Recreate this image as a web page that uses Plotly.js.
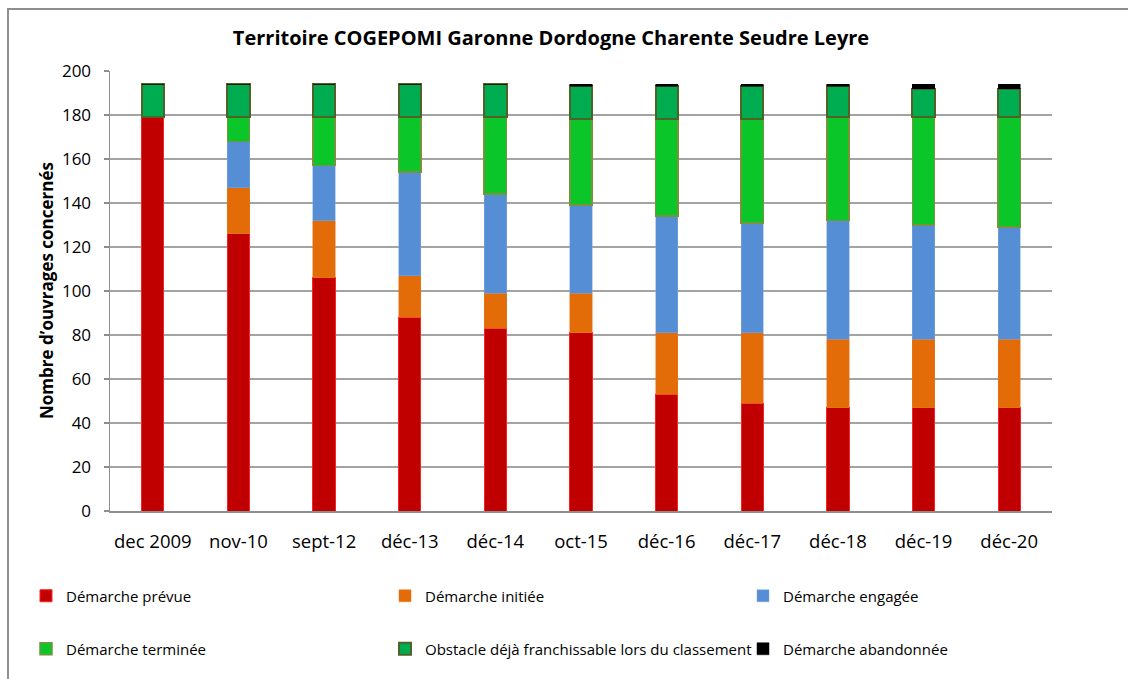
<!DOCTYPE html>
<html>
<head>
<meta charset="utf-8">
<script src="https://cdn.plot.ly/plotly-3.0.1.min.js"></script>
<style>
  html, body { margin: 0; padding: 0; background: #ffffff; }
  #wrap { position: relative; width: 1128px; height: 679px; overflow: hidden; }
  #chart { position: absolute; left: 0; top: 0; width: 1128px; height: 679px; }
  #frame { position: absolute; left: 7px; top: 8px; width: 1140px; height: 700px;
           border-left: 2px solid #8e8e8e; border-top: 2px solid #8e8e8e; pointer-events: none; }
</style>
</head>
<body>
<div id="wrap">
  <div id="chart"></div>
  <div id="frame"></div>
</div>
<script>
// ---- Data ----
const categories = ["dec 2009", "nov-10", "sept-12", "déc-13", "déc-14", "oct-15", "déc-16", "déc-17", "déc-18", "déc-19", "déc-20"];
const seriesNames = ["Démarche prévue", "Démarche initiée", "Démarche engagée", "Démarche terminée", "Obstacle déjà franchissable lors du classement", "Démarche abandonnée"];
const demarchePrevue     = [179, 126, 106, 88, 83, 81, 53, 49, 47, 47, 47];
const demarcheInitiee    = [0, 21, 26, 19, 16, 18, 28, 32, 31, 31, 31];
const demarcheEngagee    = [0, 21, 25, 47, 45, 40, 53, 50, 54, 52, 51];
const demarcheTerminee   = [0, 11, 22, 25, 35, 39, 44, 47, 47, 49, 50];
const obstacleFranchiss  = [15, 15, 15, 15, 15, 15, 15, 15, 14, 13, 13];
const demarcheAbandonnee = [0, 0, 0, 0, 0, 1, 1, 1, 1, 2, 2];
const yTicks = [0, 20, 40, 60, 80, 100, 120, 140, 160, 180, 200];

// ---- Styles ----
const fillColors = ["#C00000", "#E36C09", "#558ED5", "#0AC629", "#00AC50", "#000000"];
const lineColors = ["#FF2020", "#E87A20", "#7DA7DC", "#77933C", "#4F6228", "#000000"];
const lineWidths = [1, 0.5, 0.5, 1.5, 2, 0.5];
const values = [demarchePrevue, demarcheInitiee, demarcheEngagee, demarcheTerminee, obstacleFranchiss, demarcheAbandonnee];
const legendIds = ["legend", "legend2", "legend3", "legend4", "legend5", "legend6"];
// legend text anchor positions (pixels) in the reference
const legendPos = [[68, 596], [427, 596], [785, 596], [68, 649], [427, 649], [785, 649]];

const FONT = "Open Sans, Noto Sans, Liberation Sans, sans-serif";

const traces = values.map((v, i) => ({
  type: "bar",
  name: seriesNames[i],
  x: categories,
  y: v,
  marker: { color: fillColors[i], line: { color: lineColors[i], width: lineWidths[i] } },
  legend: legendIds[i],
  hoverinfo: "x+y+name"
}));

const layout = {
  width: 1128,
  height: 679,
  paper_bgcolor: "#ffffff",
  plot_bgcolor: "#ffffff",
  barmode: "stack",
  bargap: 0.74,
  margin: { l: 110, r: 76, t: 71, b: 168, pad: 0, autoexpand: false },
  font: { family: FONT, color: "#000000" },
  title: {
    text: "<b>Territoire COGEPOMI Garonne Dordogne Charente Seudre Leyre</b>",
    font: { family: FONT, size: 20, color: "#000000" },
    x: 551 / 1128, xref: "container", xanchor: "center",
    y: 1 - 38 / 679, yref: "container", yanchor: "middle"
  },
  xaxis: {
    type: "category",
    showline: true, linecolor: "#8e8e8e", linewidth: 1.5,
    ticks: "", showgrid: false,
    tickfont: { family: FONT, size: 18.5, color: "#000000" },
    ticklabelstandoff: 13,
    automargin: false
  },
  yaxis: {
    range: [0, 200],
    tickvals: yTicks,
    ticktext: yTicks.map(String),
    showline: true, linecolor: "#8e8e8e", linewidth: 1.5,
    ticks: "outside", ticklen: 5, tickcolor: "#8e8e8e", tickwidth: 1.5,
    showgrid: true, gridcolor: "#a3a3a3", gridwidth: 1.5,
    zeroline: false,
    tickfont: { family: FONT, size: 17, color: "#000000" },
    ticklabelstandoff: 9,
    automargin: false
  },
  annotations: [{
    text: "<b>Nombre d’ouvrages concernés</b>",
    xref: "paper", yref: "paper",
    x: (46 - 110) / 942, y: 0.5,
    xanchor: "center", yanchor: "middle",
    textangle: -90, showarrow: false,
    font: { family: FONT, size: 17, color: "#000000" }
  }],
  showlegend: true
};

legendIds.forEach((id, i) => {
  layout[id] = {
    xref: "container", yref: "container",
    x: (legendPos[i][0] - 42) / 1128,
    y: 1 - legendPos[i][1] / 679,
    xanchor: "left", yanchor: "middle",
    bgcolor: "rgba(0,0,0,0)",
    borderwidth: 0,
    font: { family: FONT, size: 15, color: "#000000" }
  };
});

Plotly.newPlot("chart", traces, layout, { displayModeBar: false, staticPlot: true });
</script>
</body>
</html>
